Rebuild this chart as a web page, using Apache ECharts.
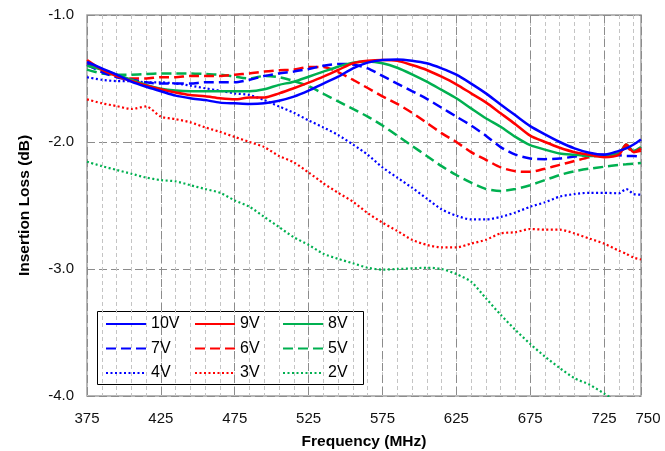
<!DOCTYPE html>
<html>
<head>
<meta charset="utf-8">
<script src="https://cdn.jsdelivr.net/npm/echarts@6/dist/echarts.min.js"></script>
<style>html,body{margin:0;padding:0;background:#fff}#c{width:665px;height:451px}</style>
</head>
<body>
<div id="c"></div>
<script>
const freqs = [375,385,395,405,415,425,435,445,455,465,475,485,495,505,515,525,535,545,555,565,575,585,595,605,615,625,635,645,655,665,675,685,695,705,715,725,735,740,745,750];
const v10 = [-1.37,-1.42,-1.47,-1.525,-1.565,-1.60,-1.635,-1.655,-1.67,-1.69,-1.695,-1.70,-1.695,-1.675,-1.643,-1.596,-1.54,-1.486,-1.42,-1.375,-1.354,-1.35,-1.36,-1.38,-1.42,-1.47,-1.54,-1.617,-1.705,-1.79,-1.875,-1.94,-2.0,-2.05,-2.085,-2.10,-2.07,-2.05,-2.02,-1.98];
const v9 = [-1.355,-1.43,-1.48,-1.52,-1.555,-1.585,-1.61,-1.63,-1.64,-1.655,-1.664,-1.65,-1.65,-1.617,-1.577,-1.533,-1.486,-1.433,-1.38,-1.36,-1.354,-1.36,-1.394,-1.433,-1.486,-1.546,-1.617,-1.688,-1.774,-1.86,-1.95,-2.0,-2.045,-2.08,-2.10,-2.12,-2.10,-2.02,-2.08,-2.05];
const v8 = [-1.40,-1.43,-1.47,-1.51,-1.55,-1.58,-1.595,-1.60,-1.60,-1.60,-1.60,-1.60,-1.585,-1.55,-1.525,-1.486,-1.446,-1.407,-1.375,-1.367,-1.38,-1.415,-1.467,-1.525,-1.59,-1.656,-1.735,-1.813,-1.88,-1.96,-2.025,-2.06,-2.09,-2.10,-2.11,-2.11,-2.09,-2.02,-2.07,-2.04];
const v7 = [-1.39,-1.45,-1.49,-1.51,-1.53,-1.54,-1.54,-1.54,-1.53,-1.53,-1.53,-1.51,-1.48,-1.46,-1.445,-1.425,-1.40,-1.385,-1.39,-1.42,-1.48,-1.54,-1.60,-1.66,-1.73,-1.80,-1.87,-1.95,-2.04,-2.10,-2.13,-2.135,-2.13,-2.115,-2.10,-2.10,-2.105,-2.11,-2.11,-2.115];
const v6 = [-1.38,-1.44,-1.48,-1.50,-1.50,-1.49,-1.49,-1.48,-1.48,-1.48,-1.47,-1.46,-1.445,-1.435,-1.43,-1.41,-1.41,-1.45,-1.51,-1.575,-1.64,-1.70,-1.77,-1.85,-1.93,-2.00,-2.08,-2.14,-2.20,-2.23,-2.235,-2.21,-2.18,-2.15,-2.12,-2.10,-2.09,-2.04,-2.08,-2.07];
const v5 = [-1.43,-1.46,-1.47,-1.47,-1.465,-1.46,-1.46,-1.46,-1.465,-1.47,-1.485,-1.50,-1.48,-1.49,-1.52,-1.56,-1.62,-1.68,-1.74,-1.80,-1.87,-1.95,-2.03,-2.11,-2.19,-2.26,-2.32,-2.37,-2.385,-2.37,-2.34,-2.30,-2.26,-2.23,-2.21,-2.195,-2.18,-2.175,-2.17,-2.165];
const v4 = [-1.49,-1.51,-1.52,-1.52,-1.53,-1.53,-1.54,-1.556,-1.577,-1.596,-1.617,-1.63,-1.67,-1.72,-1.77,-1.83,-1.885,-1.945,-2.02,-2.10,-2.20,-2.28,-2.36,-2.445,-2.53,-2.58,-2.61,-2.61,-2.59,-2.555,-2.51,-2.475,-2.43,-2.41,-2.40,-2.40,-2.404,-2.37,-2.41,-2.415];
const v3 = [-1.664,-1.695,-1.717,-1.74,-1.72,-1.80,-1.82,-1.845,-1.885,-1.92,-1.96,-2.0,-2.04,-2.11,-2.16,-2.24,-2.325,-2.40,-2.47,-2.56,-2.635,-2.70,-2.77,-2.81,-2.83,-2.83,-2.80,-2.77,-2.72,-2.71,-2.685,-2.69,-2.69,-2.72,-2.76,-2.80,-2.856,-2.88,-2.91,-2.925];
const v2 = [-2.155,-2.19,-2.22,-2.25,-2.28,-2.30,-2.31,-2.34,-2.37,-2.40,-2.46,-2.51,-2.59,-2.67,-2.75,-2.81,-2.88,-2.92,-2.955,-2.99,-3.005,-3.0,-2.995,-2.99,-3.0,-3.04,-3.10,-3.23,-3.36,-3.48,-3.59,-3.69,-3.78,-3.86,-3.91,-3.98,-4.05,-4.08,-4.11,-4.14];

const seriesNames = ['10V','9V','8V','7V','6V','5V','4V','3V','2V'];
const seriesValues = [v10,v9,v8,v7,v6,v5,v4,v3,v2];
const xTickStart = 375, xTickEnd = 750, xMajor = 50, xMinor = 10;
const yMin = -4, yMax = -1, yStep = 1;

const BLUE = '#0000ff', RED = '#ff0000', GREEN = '#00b050';
const colors = [BLUE, RED, GREEN, BLUE, RED, GREEN, BLUE, RED, GREEN];
const SOLID = 'solid', DASH = [10, 5], DOT = [2, 2.5];
const types = [SOLID, SOLID, SOLID, DASH, DASH, DASH, DOT, DOT, DOT];
const widths = [2.5, 2.5, 2.5, 2.5, 2.5, 2.5, 2.2, 2.2, 2.2];
const FONT = 'Liberation Sans';

const series = seriesNames.map((n, k) => ({
  name: n,
  type: 'line',
  xAxisIndex: 0,
  yAxisIndex: 0,
  symbol: 'none',
  smooth: 0.25,
  clip: true,
  z: 10 - k,
  lineStyle: { color: colors[k], width: widths[k], type: types[k], cap: 'butt' },
  itemStyle: { color: colors[k] },
  data: freqs.map((f, i) => [f, seriesValues[k][i]])
}));

const span = xTickEnd - xTickStart;
const legendCommon = {
  orient: 'vertical', top: 315, itemWidth: 40, itemHeight: 18, itemGap: 6.5, padding: 0,
  selectedMode: false,
  itemStyle: { opacity: 0 },
  textStyle: { fontFamily: FONT, fontSize: 16, color: '#000', lineHeight: 18 }
};

const chart = echarts.init(document.getElementById('c'), null, { renderer: 'canvas' });
chart.setOption({
  animation: false,
  backgroundColor: '#fff',
  grid: { left: 87, top: 15, right: 24, bottom: 55, containLabel: false, outerBoundsMode: 'none',
    show: true, borderColor: '#a0a0a0', borderWidth: 1.5, backgroundColor: 'transparent' },
  xAxis: [
    { type: 'value', min: xTickStart, max: xTickEnd, show: false },
    { type: 'value', min: 0, max: span, interval: xMinor, position: 'bottom',
      axisLine: { show: false }, axisTick: { show: false }, axisLabel: { show: false },
      splitLine: { show: true, lineStyle: { color: '#c4c4c4', width: 1, type: [4, 3] } } },
    { type: 'value', min: 0, max: span, interval: xMajor, position: 'bottom',
      name: 'Frequency (MHz)', nameLocation: 'middle', nameGap: 38,
      nameTextStyle: { fontFamily: FONT, fontSize: 15.5, fontWeight: 'bold', color: '#000' },
      axisLine: { show: false }, axisTick: { show: false },
      axisLabel: { margin: 15, fontFamily: FONT, fontSize: 15, color: '#111',
        formatter: v => { const f = v + xTickStart; return f === xTickEnd ? '{e|' + f + '}' : String(f); },
        rich: { e: { fontFamily: FONT, fontSize: 15, color: '#111', padding: [0, 0, 0, 14] } } },
      splitLine: { show: true, lineStyle: { color: '#8c8c8c', width: 1, type: [8, 4] } } }
  ],
  yAxis: [{
    type: 'value', min: yMin, max: yMax, interval: yStep,
    name: 'Insertion Loss (dB)', nameLocation: 'middle', nameGap: 54, nameRotate: 90,
    nameTextStyle: { fontFamily: FONT, fontSize: 15.5, fontWeight: 'bold', color: '#000' },
    axisLine: { show: false }, axisTick: { show: false },
    axisLabel: { margin: 13, fontFamily: FONT, fontSize: 15, color: '#111', formatter: v => v.toFixed(1) },
    splitLine: { show: true, lineStyle: { color: '#8c8c8c', width: 1, type: [8, 4] } }
  }],
  graphic: [{ type: 'rect', left: 97, top: 311, z: 0, shape: { width: 266, height: 73 },
    style: { fill: '#fff', stroke: '#000', lineWidth: 1 } }],
  legend: [
    Object.assign({}, legendCommon, { left: 105, data: ['10V','7V','4V'] }),
    Object.assign({}, legendCommon, { left: 194, data: ['9V','6V','3V'] }),
    Object.assign({}, legendCommon, { left: 282, data: ['8V','5V','2V'] })
  ],
  series: series
});
</script>
</body>
</html>
